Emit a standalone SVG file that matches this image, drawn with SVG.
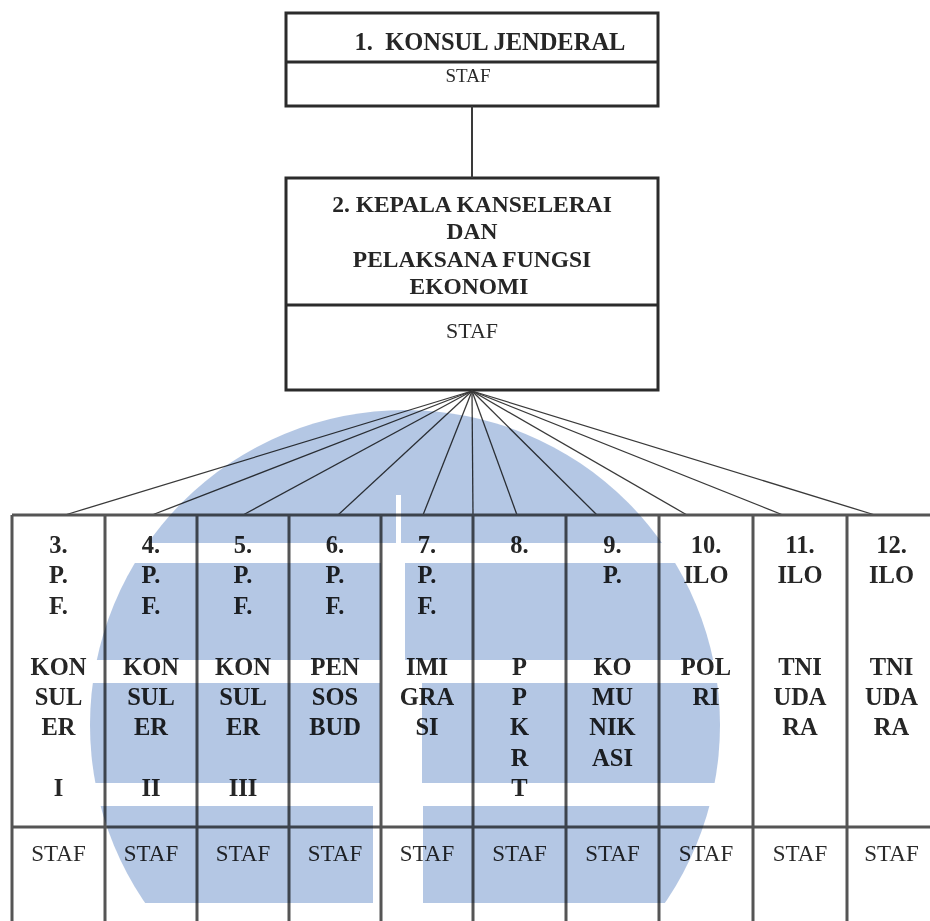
<svg xmlns="http://www.w3.org/2000/svg" width="930" height="921" viewBox="0 0 930 921">
<style>
.b{font-family:"Liberation Serif","Times New Roman",serif;font-weight:bold;font-size:24.5px;fill:#262626;text-anchor:middle}
.h{font-family:"Liberation Serif","Times New Roman",serif;font-weight:bold;font-size:23.5px;fill:#262626;text-anchor:middle}
.s{font-family:"Liberation Serif","Times New Roman",serif;font-weight:normal;font-size:23px;fill:#2a2a2a;text-anchor:middle}
.box{fill:none;stroke:#2b2b2b;stroke-width:3}
.div{stroke:#2b2b2b;stroke-width:3}
.fan{stroke:#3a3a3a;stroke-width:1.3;fill:none}
.grid{stroke:#555;stroke-width:3}
.wm{fill:#b4c7e4}
</style>
<defs>
<clipPath id="logo"><circle cx="405" cy="725" r="315"/></clipPath>
</defs>
<rect width="930" height="921" fill="#fff"/>

<g id="node1">
<rect class="box" x="286" y="13" width="372" height="93"/>
<line class="div" x1="286" y1="62" x2="658" y2="62"/>
<text class="b" x="490" y="50">1.&#160; KONSUL JENDERAL</text>
<text class="s" x="468" y="82" style="font-size:19px">STAF</text>
</g>

<g id="node2">
<rect class="box" x="286" y="178" width="372" height="212"/>
<line class="div" x1="286" y1="305" x2="658" y2="305"/>
<text class="h" x="472" y="212">2. KEPALA KANSELERAI</text>
<text class="h" x="472" y="239">DAN</text>
<text class="h" x="472" y="267">PELAKSANA FUNGSI</text>
<text class="h" x="469" y="294">EKONOMI</text>
<text class="s" x="472" y="338" style="font-size:22px">STAF</text>
</g>

<g id="connectors">
<line class="fan" x1="472" y1="106" x2="472" y2="178" style="stroke-width:2"/>
<line class="fan" x1="472" y1="391" x2="65" y2="515"/>
<line class="fan" x1="472" y1="391" x2="152" y2="515"/>
<line class="fan" x1="472" y1="391" x2="243" y2="515"/>
<line class="fan" x1="472" y1="391" x2="338" y2="515"/>
<line class="fan" x1="472" y1="391" x2="423" y2="515"/>
<line class="fan" x1="472" y1="391" x2="473" y2="515"/>
<line class="fan" x1="472" y1="391" x2="517" y2="515"/>
<line class="fan" x1="472" y1="391" x2="597" y2="515"/>
<line class="fan" x1="472" y1="391" x2="687" y2="515"/>
<line class="fan" x1="472" y1="391" x2="783" y2="515"/>
<line class="fan" x1="472" y1="391" x2="875" y2="515"/>
</g>

<g id="table-grid">
<line class="grid" x1="12" y1="515" x2="930" y2="515"/>
<line class="grid" x1="12" y1="827" x2="930" y2="827"/>
<line class="grid" x1="12" y1="515" x2="12" y2="921"/>
<line class="grid" x1="105" y1="515" x2="105" y2="921"/>
<line class="grid" x1="197" y1="515" x2="197" y2="921"/>
<line class="grid" x1="289" y1="515" x2="289" y2="921"/>
<line class="grid" x1="381" y1="515" x2="381" y2="921"/>
<line class="grid" x1="473" y1="515" x2="473" y2="921"/>
<line class="grid" x1="566" y1="515" x2="566" y2="921"/>
<line class="grid" x1="659" y1="515" x2="659" y2="921"/>
<line class="grid" x1="753" y1="515" x2="753" y2="921"/>
<line class="grid" x1="847" y1="515" x2="847" y2="921"/>
</g>

<g id="node3">
<text class="b" x="58.5" y="553">3.</text><text class="b" x="58.5" y="583">P.</text><text class="b" x="58.5" y="614">F.</text>
<text class="b" x="58.5" y="675">KON</text><text class="b" x="58.5" y="705">SUL</text><text class="b" x="58.5" y="735">ER</text><text class="b" x="58.5" y="796">I</text>
<text class="s" x="58.5" y="861">STAF</text>
</g>
<g id="node4">
<text class="b" x="151" y="553">4.</text><text class="b" x="151" y="583">P.</text><text class="b" x="151" y="614">F.</text>
<text class="b" x="151" y="675">KON</text><text class="b" x="151" y="705">SUL</text><text class="b" x="151" y="735">ER</text><text class="b" x="151" y="796">II</text>
<text class="s" x="151" y="861">STAF</text>
</g>
<g id="node5">
<text class="b" x="243" y="553">5.</text><text class="b" x="243" y="583">P.</text><text class="b" x="243" y="614">F.</text>
<text class="b" x="243" y="675">KON</text><text class="b" x="243" y="705">SUL</text><text class="b" x="243" y="735">ER</text><text class="b" x="243" y="796">III</text>
<text class="s" x="243" y="861">STAF</text>
</g>
<g id="node6">
<text class="b" x="335" y="553">6.</text><text class="b" x="335" y="583">P.</text><text class="b" x="335" y="614">F.</text>
<text class="b" x="335" y="675">PEN</text><text class="b" x="335" y="705">SOS</text><text class="b" x="335" y="735">BUD</text>
<text class="s" x="335" y="861">STAF</text>
</g>
<g id="node7">
<text class="b" x="427" y="553">7.</text><text class="b" x="427" y="583">P.</text><text class="b" x="427" y="614">F.</text>
<text class="b" x="427" y="675">IMI</text><text class="b" x="427" y="705">GRA</text><text class="b" x="427" y="735">SI</text>
<text class="s" x="427" y="861">STAF</text>
</g>
<g id="node8">
<text class="b" x="519.5" y="553">8.</text>
<text class="b" x="519.5" y="675">P</text><text class="b" x="519.5" y="705">P</text><text class="b" x="519.5" y="735">K</text><text class="b" x="519.5" y="766">R</text><text class="b" x="519.5" y="796">T</text>
<text class="s" x="519.5" y="861">STAF</text>
</g>
<g id="node9">
<text class="b" x="612.5" y="553">9.</text><text class="b" x="612.5" y="583">P.</text>
<text class="b" x="612.5" y="675">KO</text><text class="b" x="612.5" y="705">MU</text><text class="b" x="612.5" y="735">NIK</text><text class="b" x="612.5" y="766">ASI</text>
<text class="s" x="612.5" y="861">STAF</text>
</g>
<g id="node10">
<text class="b" x="706" y="553">10.</text><text class="b" x="706" y="583">ILO</text>
<text class="b" x="706" y="675">POL</text><text class="b" x="706" y="705">RI</text>
<text class="s" x="706" y="861">STAF</text>
</g>
<g id="node11">
<text class="b" x="800" y="553">11.</text><text class="b" x="800" y="583">ILO</text>
<text class="b" x="800" y="675">TNI</text><text class="b" x="800" y="705">UDA</text><text class="b" x="800" y="735">RA</text>
<text class="s" x="800" y="861">STAF</text>
</g>
<g id="node12">
<text class="b" x="891.5" y="553">12.</text><text class="b" x="891.5" y="583">ILO</text>
<text class="b" x="891.5" y="675">TNI</text><text class="b" x="891.5" y="705">UDA</text><text class="b" x="891.5" y="735">RA</text>
<text class="s" x="891.5" y="861">STAF</text>
</g>

<g id="watermark" clip-path="url(#logo)" style="mix-blend-mode:multiply">
<rect class="wm" x="0" y="400" width="930" height="95"/>
<rect class="wm" x="0" y="495" width="396" height="48"/>
<rect class="wm" x="401" y="495" width="529" height="48"/>
<rect class="wm" x="0" y="563" width="381" height="97"/>
<rect class="wm" x="405" y="563" width="525" height="97"/>
<rect class="wm" x="0" y="683" width="380" height="100"/>
<rect class="wm" x="422" y="683" width="508" height="100"/>
<rect class="wm" x="0" y="806" width="373" height="97"/>
<rect class="wm" x="423" y="806" width="507" height="97"/>
</g>
</svg>
